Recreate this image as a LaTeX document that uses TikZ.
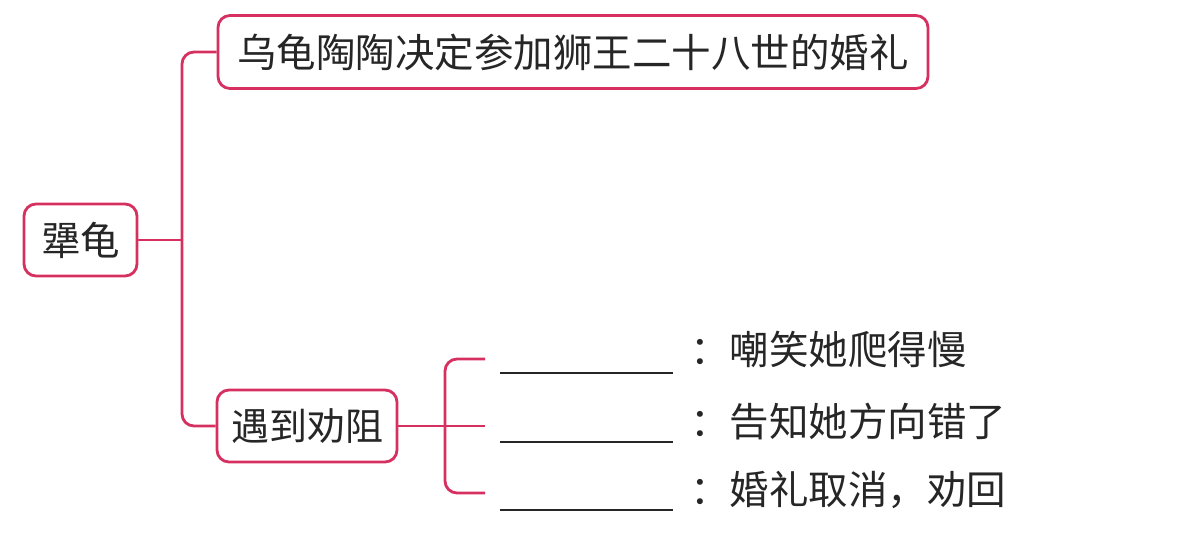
\documentclass[tikz,border=0pt]{standalone}
\usepackage{fontspec}
\setmainfont{Noto Sans CJK SC}
\definecolor{pinkred}{RGB}{214,48,96}
\begin{document}
\begin{tikzpicture}[x=1pt,y=-1pt,
  box/.style={draw=pinkred,line width=2.8pt,rounded corners=12pt,inner sep=0pt,font=\fontsize{39.5}{42}\selectfont,text=black!85},
  conn/.style={draw=pinkred,line width=2.8pt},
  blankline/.style={draw=black!85,line width=2.8pt},
  lbl/.style={anchor=west,inner sep=0pt,font=\fontsize{39.5}{42}\selectfont,text=black!85}]
\useasboundingbox (0,0) rectangle (1178,555);
\node[box,minimum width=113pt,minimum height=72pt] (root) at (80.5,240) {犟龟};
\node[box,minimum width=710pt,minimum height=73pt] (top) at (573,52) {乌龟陶陶决定参加狮王二十八世的婚礼};
\node[box,minimum width=180pt,minimum height=72pt,font=\fontsize{38}{40}\selectfont] (mid) at (307,426) {遇到劝阻};
\coordinate (tx) at (182,240);
\draw[conn] (root.east) -- (tx);
\draw[conn,rounded corners=12pt] (top.west) -| (tx) |- (mid.west);
\coordinate (b1) at (485,359);
\coordinate (b2) at (485,426);
\coordinate (b3) at (485,493);
\coordinate (bx) at (445,426);
\draw[conn,rounded corners=12pt] (b1) -| (bx) |- (b3);
\draw[conn] (mid.east) -- (b2);
\draw[blankline] (500,373) -- (673,373);
\draw[blankline] (500,442) -- (673,442);
\draw[blankline] (500,510) -- (673,510);
\node[lbl] (t1) at (690,349) {：嘲笑她爬得慢};
\node[lbl] (t2) at (690,422) {：告知她方向错了};
\node[lbl] (t3) at (690,490) {：婚礼取消，劝回};
\end{tikzpicture}
\end{document}
